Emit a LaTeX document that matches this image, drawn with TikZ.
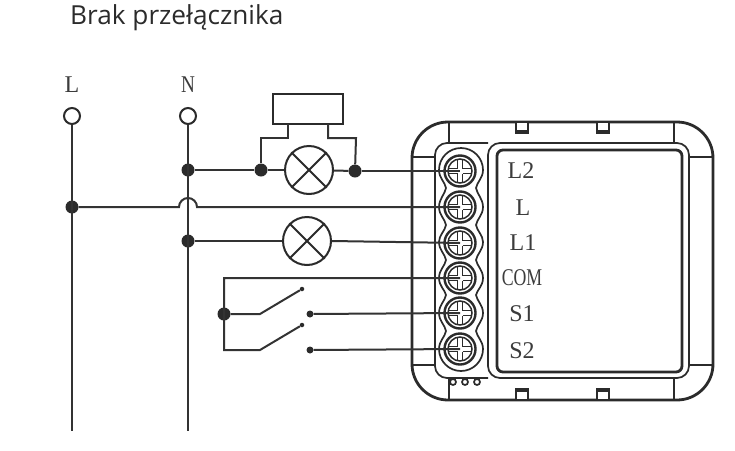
\documentclass[tikz,border=0pt]{standalone}
\usepackage{fontspec}
\setmainfont{Liberation Serif}
\newfontfamily\titlefont{Open Sans}
\definecolor{ink}{HTML}{2B2B2B}
\definecolor{wirec}{HTML}{333333}
\definecolor{lab}{HTML}{3C3C3C}
\tikzset{
  wire/.style={draw=wirec,line width=2pt},
  devline/.style={draw=ink,line width=1.7pt},
  devthick/.style={draw=ink,line width=2.8pt},
  junction/.style={circle,fill=ink,inner sep=0pt,minimum size=13pt},
  pin/.style={circle,fill=ink,inner sep=0pt,minimum size=7pt},
  tip/.style={circle,fill=ink,inner sep=0pt,minimum size=4.5pt},
  terminal/.style={circle,draw=ink,line width=2pt,fill=white,inner sep=0pt,minimum size=16pt},
  lampnode/.style={circle,draw=ink,line width=2pt,fill=white,inner sep=0pt,minimum size=48pt},
  termlabel/.style={text=lab,font=\fontsize{24}{26}\selectfont,inner sep=0pt},
  lampx/.style={draw=ink,line width=2pt}
}
\begin{document}
\begin{tikzpicture}[x=1pt,y=-1pt]
\useasboundingbox (0,0) rectangle (735,450);
\fill[white] (0,0) rectangle (735,450);
\node[anchor=base west,inner sep=0pt,text=ink,font=\titlefont\fontsize{26.2}{28}\selectfont] (title) at (70,24) {Brak przełącznika};

% device
\draw[devthick,rounded corners=36pt] (412,122) rectangle (713,400);
\foreach \x in {449,674}{
  \draw[devline] (\x,122) -- (\x,143);
  \draw[devline] (\x,378) -- (\x,400);
}
\draw[devline] (412,157) -- (436,157);
\draw[devline] (412,365) -- (436,365);
\draw[devline] (689,157) -- (712,157);
\draw[devline] (689,365) -- (712,365);
\foreach \x in {516,597}{
  \draw[devline,fill=white] (\x,122) rectangle (\x+12,133);
  \fill[ink] (\x,130) rectangle (\x+12,133);
  \draw[devline,fill=white] (\x,389) rectangle (\x+12,400);
  \fill[ink] (\x,389) rectangle (\x+12,392);
}
\draw[devline,rounded corners=12pt] (500,143) -- (689,143) -- (689,378) -- (488,378) -- (488,143) -- (500,143);
\draw[devthick,rounded corners=6pt] (497,150) rectangle (682,372);
\draw[devline,rounded corners=12pt] (488,143) -- (435,143) -- (435,378) -- (488,378);
\foreach \x in {453,465,477}{
  \draw[devline,fill=white] (\x,382) circle (3);
}
% scalloped terminal strip
\draw[devline,fill=white]
  (439,170) arc[start angle=180,end angle=360,radius=22]
  .. controls (483,178) and (477,182) .. (476,188)
  .. controls (477,194) and (483,199) .. (483,207)
  .. controls (483,215) and (477,219) .. (476,225)
  .. controls (477,231) and (483,235) .. (483,242)
  .. controls (483,250) and (477,254) .. (476,260)
  .. controls (477,266) and (483,270) .. (483,278)
  .. controls (483,286) and (477,290) .. (476,295)
  .. controls (477,301) and (483,305) .. (483,313)
  .. controls (483,321) and (477,325) .. (476,331)
  .. controls (477,337) and (483,341) .. (483,349)
  arc[start angle=0,end angle=180,radius=22] 
  .. controls (439,341) and (445,337) .. (446,331)
  .. controls (445,325) and (439,321) .. (439,313)
  .. controls (439,305) and (445,301) .. (446,295)
  .. controls (445,290) and (439,286) .. (439,278)
  .. controls (439,270) and (445,266) .. (446,260)
  .. controls (445,254) and (439,250) .. (439,242)
  .. controls (439,235) and (445,231) .. (446,225)
  .. controls (445,219) and (439,215) .. (439,207)
  .. controls (439,199) and (445,194) .. (446,188)
  .. controls (445,182) and (439,178) .. (439,170) -- cycle;
% screw centres
\coordinate (t1) at (460,171);
\coordinate (t2) at (460,207);
\coordinate (t3) at (460,243);
\coordinate (t4) at (460,278);
\coordinate (t5) at (460,313);
\coordinate (t6) at (460,349);

% screws
\foreach \t/\ty in {t1/171,t2/207,t3/243,t4/278,t5/313,t6/349}{
  \begin{scope}
    \draw[draw=ink,line width=2.4pt] (\t) circle (15.5);
    \draw[draw=ink,line width=1.5pt] (\t) circle (12);
    \clip (\t) circle (12);
    \draw[ink,line width=1.2pt] (448,\ty-2.5) -- (457.5,\ty-2.5) (462.5,\ty-2.5) -- (472,\ty-2.5)
       (448,\ty+2.5) -- (457.5,\ty+2.5) (462.5,\ty+2.5) -- (472,\ty+2.5)
       (457.5,\ty-12) -- (457.5,\ty-2.5) (462.5,\ty-12) -- (462.5,\ty-2.5)
       (457.5,\ty+12) -- (457.5,\ty+2.5) (462.5,\ty+12) -- (462.5,\ty+2.5);
  \end{scope}
}

% wires
\node[terminal] (supL) at (72,116) {};
\node[terminal] (supN) at (188,116) {};
\coordinate (endL) at (72,431);
\coordinate (endN) at (188,431);
\node[termlabel] (labL) at (72,85) {L};
\node[termlabel] (labN) at (188,85) {\scalebox{.8}[1]{N}};
\node[junction] (jL) at (72,207) {};
\node[junction] (jN1) at (188,170) {};
\node[junction] (jN2) at (188,241) {};
\draw[wire] (supL) -- (endL);
\draw[wire] (supN) -- (endN);

\node[lampnode] (lamp1) at (309,170) {};
\node[lampnode] (lamp2) at (307,241) {};
\node[junction] (ja) at (261,170) {};
\node[junction] (jb) at (355,171) {};
\draw[wire] (jN1) -- (ja);
\draw[wire] (ja) -- (lamp1);
\draw[wire] (lamp1) -- (jb);
\draw[wire] (jb) -- (t1);
\draw[wire] (jN2) -- (lamp2);
\draw[wire] (lamp2.east) -- (t3);
\draw[wire] (jL) -- (179,207) arc[start angle=180,end angle=360,radius=9] -- (t2);
\foreach \n in {lamp1,lamp2}{
  \draw[lampx] (\n.45) -- (\n.225);
  \draw[lampx] (\n.135) -- (\n.315);
}
% box over the lamp
\node[draw=ink,line width=2pt,minimum width=70pt,minimum height=30pt,inner sep=0pt] (box) at (308,109) {};
\coordinate (bl) at (288,124);
\coordinate (br) at (328,124);
\draw[wire] (bl) -- (288,138) -- (261,138) -- (ja);
\draw[wire] (br) -- (328,138) -- (356,138) -- (jb);

% switches
\node[junction] (jS) at (224,314) {};
\coordinate (cTop) at (224,278);
\coordinate (cBot) at (224,350);
\node[tip] (tipA) at (302,289) {};
\node[tip] (tipB) at (302,325) {};
\node[pin] (pinA) at (310,314) {};
\node[pin] (pinB) at (310,350) {};
\draw[wire] (t4) -- (cTop) -- (cBot) -- (260,350) -- (tipB);
\draw[wire] (jS) -- (260,314) -- (tipA);
\draw[wire] (pinA) -- (t5);
\draw[wire] (pinB) -- (t6);

% terminal labels
\node[termlabel] (l1) at (521,171) {L2};
\node[termlabel] (l2) at (523,208) {L};
\node[termlabel] (l3) at (523,243) {L1};
\node[termlabel] (l4) at (522,278) {\scalebox{.74}[1]{COM}};
\node[termlabel] (l5) at (522,314) {S1};
\node[termlabel] (l6) at (522,351) {S2};
\end{tikzpicture}
\end{document}
